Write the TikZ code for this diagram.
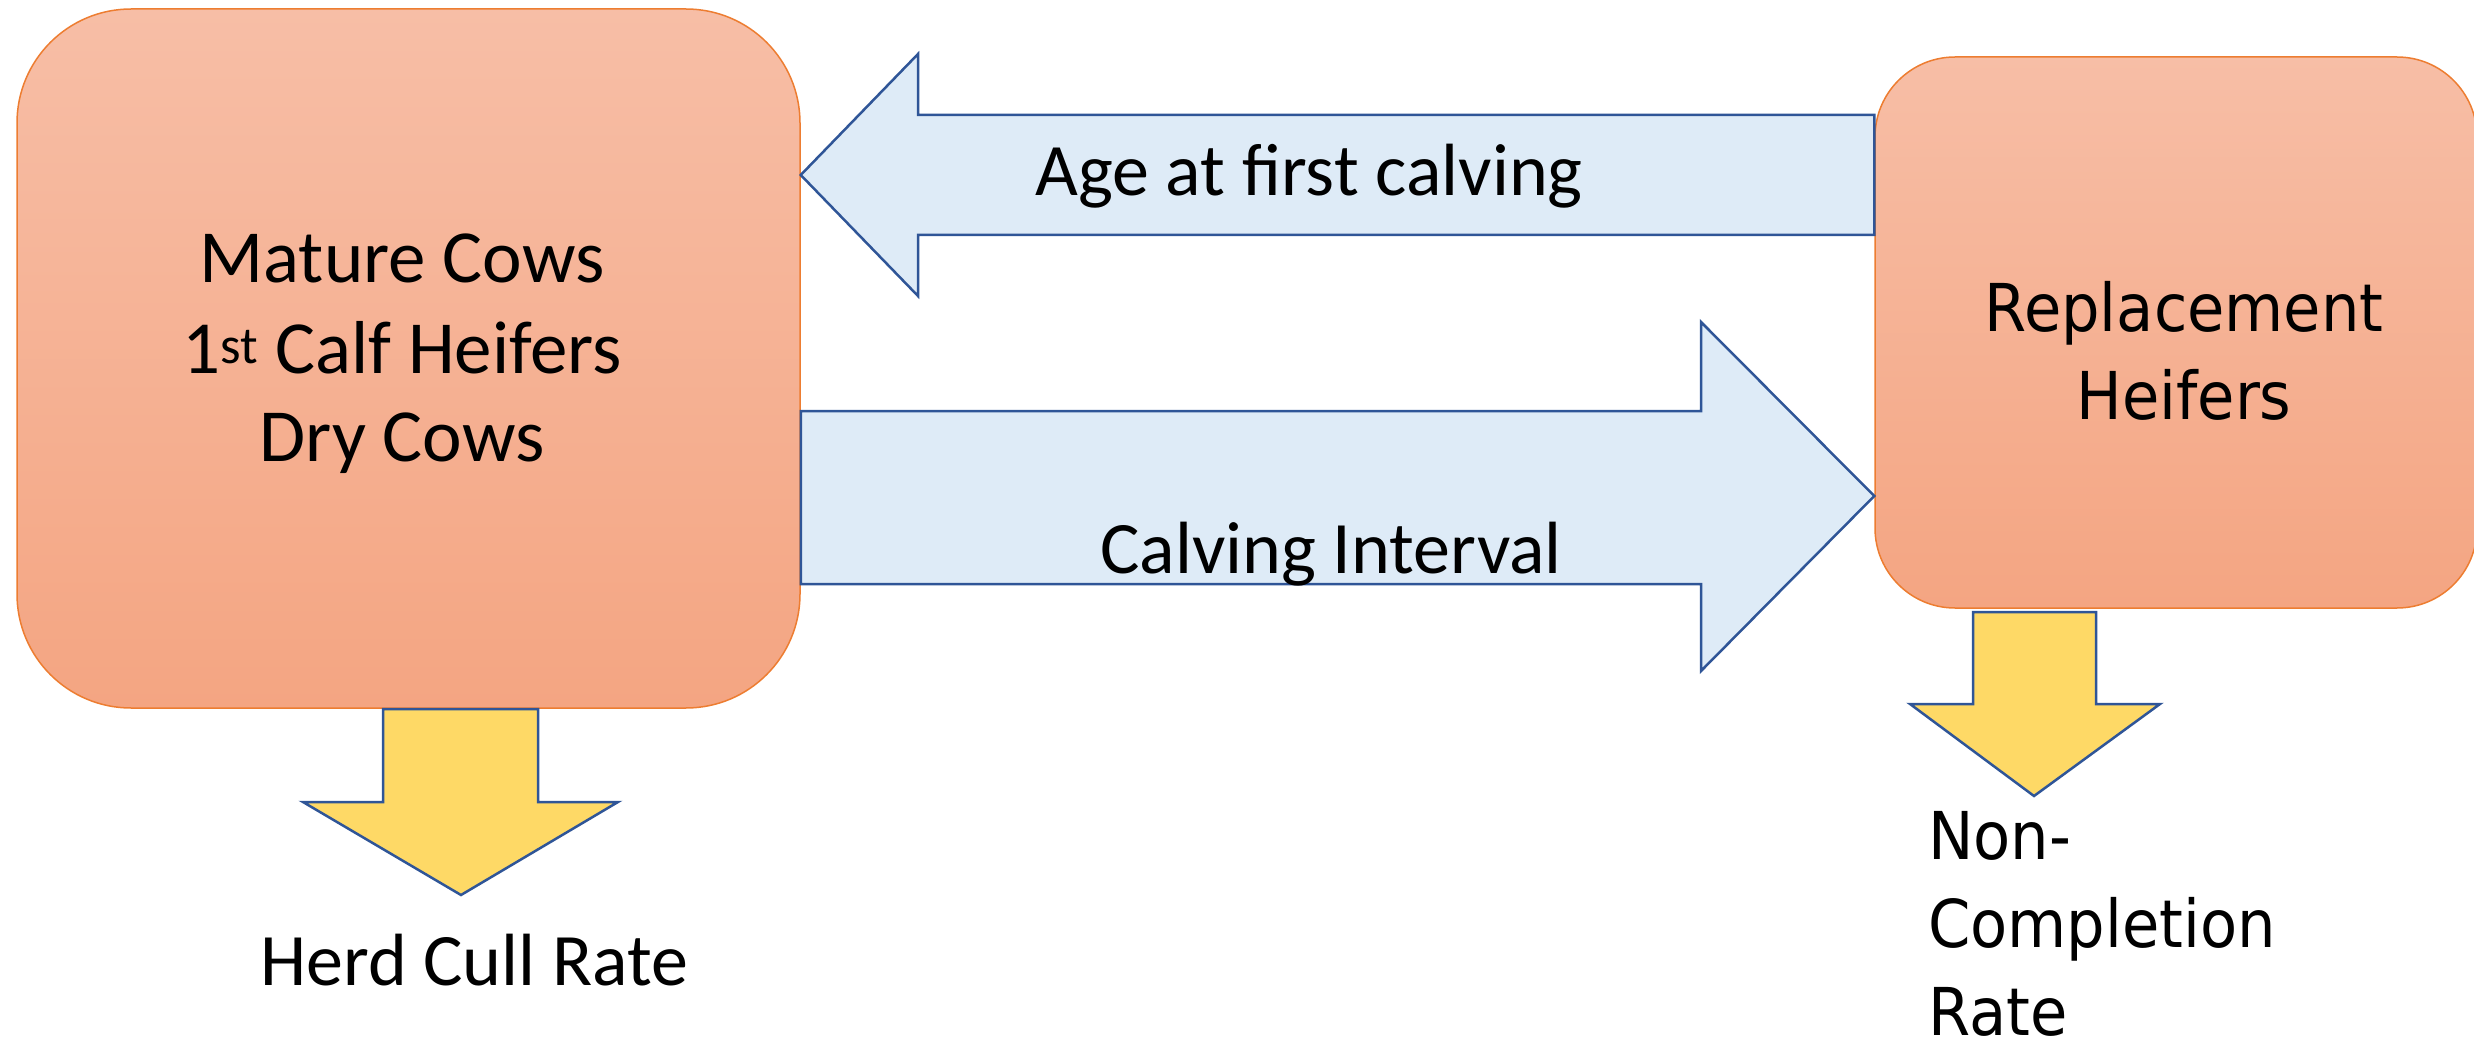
\documentclass[tikz,border=0pt]{standalone}
\usepackage{fontspec}
\setmainfont{Carlito}
\newfontfamily\widefont[FakeStretch=0.92]{DejaVu Sans}
\definecolor{boxtop}{RGB}{247,190,166}
\definecolor{boxbot}{RGB}{244,165,130}
\definecolor{boxline}{RGB}{237,125,49}
\definecolor{flowfill}{RGB}{222,235,247}
\definecolor{flowline}{RGB}{47,85,151}
\definecolor{lossfill}{RGB}{254,217,102}
\tikzset{
  herdbox/.style={rectangle, draw=boxline, line width=1.5pt, top color=boxtop, bottom color=boxbot, inner sep=0pt},
  flowarrow/.style={draw=flowline, fill=flowfill, line width=2.5pt, line join=miter},
  lossarrow/.style={draw=flowline, fill=lossfill, line width=2.5pt, line join=miter},
  lbl/.style={anchor=base, inner sep=0pt, font=\fontsize{74}{88}\selectfont},
  widelbl/.style={anchor=base, inner sep=0pt, font=\widefont\fontsize{66}{88}\selectfont},
}
\begin{document}
\begin{tikzpicture}[x=1pt,y=-1pt]
\useasboundingbox (0,0) rectangle (2474,1043);

% the two herd groups
\node[herdbox, rounded corners=114pt, minimum width=783pt, minimum height=699pt] (herd) at (408.5,358.5) {};
\node[herdbox, rounded corners=80pt, minimum width=602pt, minimum height=551pt] (repl) at (2176,332.5) {};

% flow arrows between the groups
\draw[flowarrow] (repl.west |- 0,115) -- (918,115) -- (918,54) -- (herd.east |- 0,175) -- (918,296) -- (918,235) -- (repl.west |- 0,235) -- cycle;
\draw[flowarrow] (herd.east |- 0,411) -- (1701,411) -- (1701,322) -- (repl.west |- 0,496) -- (1701,671) -- (1701,584) -- (herd.east |- 0,584) -- cycle;

% losses leaving each group
\draw[lossarrow] (383,709) -- (538,709) -- (538,802) -- (618,802) -- (461,895) -- (303,802) -- (383,802) -- cycle;
\draw[lossarrow] (1973,612) -- (2096,612) -- (2096,704) -- (2160,704) -- (2034,796) -- (1910,704) -- (1973,704) -- cycle;

% group labels
\node[lbl, font=\fontsize{75}{88}\selectfont] (m1) at (402,282) {Mature Cows};
\node[lbl, font=\fontsize{75}{88}\selectfont] (m2) at (402,373) {1\textsuperscript{st} Calf Heifers};
\node[lbl, font=\fontsize{75}{88}\selectfont] (m3) at (402,461) {Dry Cows};
\node[widelbl] (r1) at (2184,331) {Replacement};
\node[widelbl] (r2) at (2184,419) {Heifers};

% flow labels
\node[lbl] (afc) at (1309,196) {Age at first calving};
\node[lbl] (ci) at (1331,573) {Calving Interval};

% loss labels
\node[lbl, anchor=base west] (hcr) at (260,985) {Herd Cull Rate};
\node[widelbl, anchor=base west] (n1) at (1928,859) {Non-};
\node[widelbl, anchor=base west] (n2) at (1928,947) {Completion};
\node[widelbl, anchor=base west] (n3) at (1928,1035) {Rate};
\end{tikzpicture}
\end{document}
